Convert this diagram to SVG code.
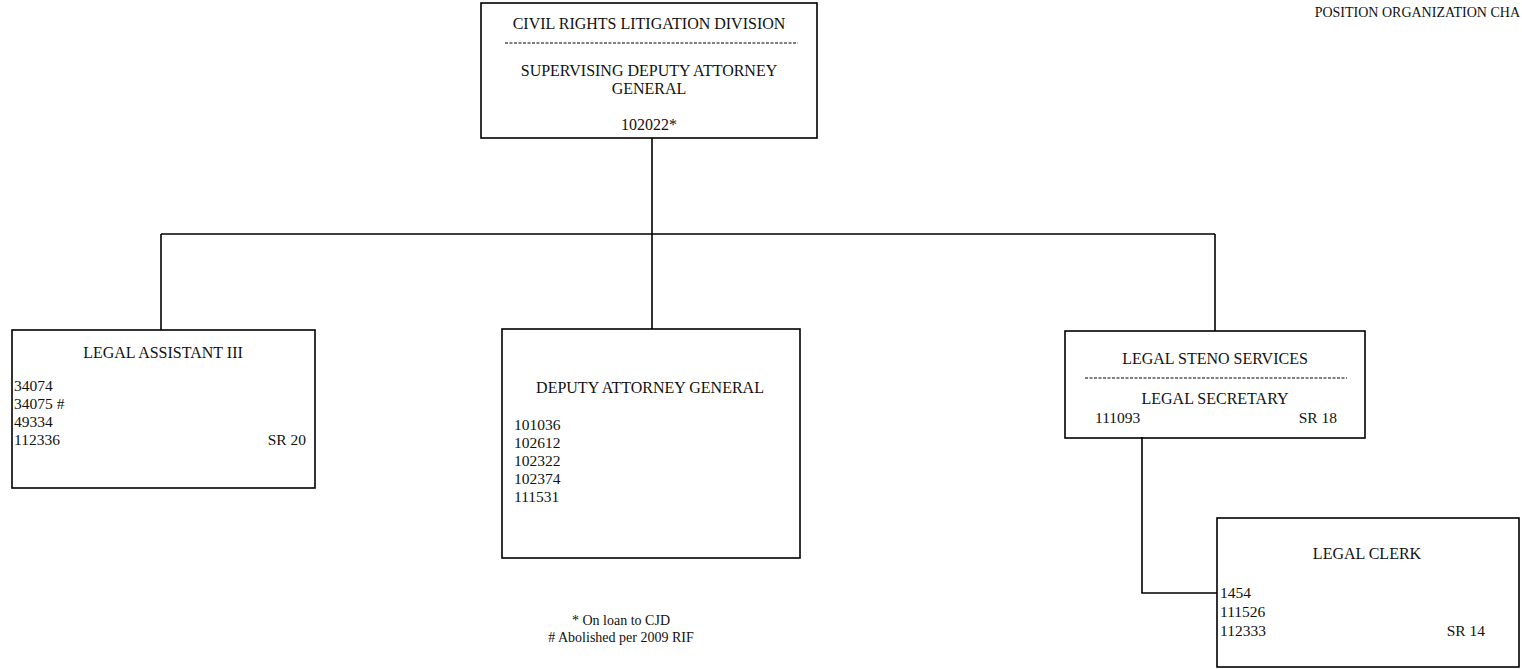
<svg xmlns="http://www.w3.org/2000/svg" width="1522" height="669" viewBox="0 0 1522 669">
<style>
.bg{fill:#fff}
.box{fill:none;stroke:#000;stroke-width:1.6}
.dash{fill:none;stroke:#000;stroke-width:1;stroke-dasharray:3 1.5}
.con{fill:none;stroke:#000;stroke-width:1.6}
text{font-family:"Liberation Serif","Times New Roman",serif;fill:#111}
.h{font-size:16px;text-anchor:middle}
.n{font-size:15.5px}
.e{font-size:15.5px;text-anchor:end}
.f{font-size:14px;text-anchor:middle}
.ttl{font-size:14px;text-anchor:end}
</style>
<rect class="bg" x="0" y="0" width="1522" height="669"/>
<text class="ttl" x="1520" y="17">POSITION ORGANIZATION CHA</text>
<g id="connectors">
<path class="con" d="M652 138 V234"/>
<path class="con" d="M161 234 H1215"/>
<path class="con" d="M161 234 V330"/>
<path class="con" d="M652 234 V329"/>
<path class="con" d="M1215 234 V331"/>
<path class="con" d="M1142 437 V593 H1217"/>
</g>
<g id="civil-rights-division">
<rect class="box" x="481" y="3" width="336" height="135"/>
<text class="h" x="649" y="29">CIVIL RIGHTS LITIGATION DIVISION</text>
<line class="dash" x1="505" y1="43" x2="798" y2="43"/>
<text class="h" x="649" y="76">SUPERVISING DEPUTY ATTORNEY</text>
<text class="h" x="649" y="94">GENERAL</text>
<text class="h" x="649" y="130">102022*</text>
</g>
<g id="legal-assistant">
<rect class="box" x="12" y="330" width="303" height="158"/>
<text class="h" x="163" y="358">LEGAL ASSISTANT III</text>
<text class="n" x="14" y="391">34074</text>
<text class="n" x="14" y="409">34075 #</text>
<text class="n" x="14" y="427">49334</text>
<text class="n" x="14" y="445">112336</text>
<text class="e" x="306" y="445">SR 20</text>
</g>
<g id="deputy-attorney-general">
<rect class="box" x="502" y="329" width="298" height="229"/>
<text class="h" x="650" y="393">DEPUTY ATTORNEY GENERAL</text>
<text class="n" x="514" y="430">101036</text>
<text class="n" x="514" y="448">102612</text>
<text class="n" x="514" y="466">102322</text>
<text class="n" x="514" y="484">102374</text>
<text class="n" x="514" y="502">111531</text>
</g>
<g id="legal-steno">
<rect class="box" x="1065" y="331" width="300" height="107"/>
<text class="h" x="1215" y="364">LEGAL STENO SERVICES</text>
<line class="dash" x1="1085" y1="378" x2="1347" y2="378"/>
<text class="h" x="1215" y="404">LEGAL SECRETARY</text>
<text class="n" x="1095" y="423">111093</text>
<text class="e" x="1337" y="423">SR 18</text>
</g>
<g id="legal-clerk">
<rect class="box" x="1217" y="518" width="302" height="149"/>
<text class="h" x="1367" y="559">LEGAL CLERK</text>
<text class="n" x="1220" y="598">1454</text>
<text class="n" x="1220" y="617">111526</text>
<text class="n" x="1220" y="636">112333</text>
<text class="e" x="1485" y="636">SR 14</text>
</g>
<g id="notes">
<text class="f" x="621" y="625">* On loan to CJD</text>
<text class="f" x="621" y="642"># Abolished per 2009 RIF</text>
</g>
</svg>
